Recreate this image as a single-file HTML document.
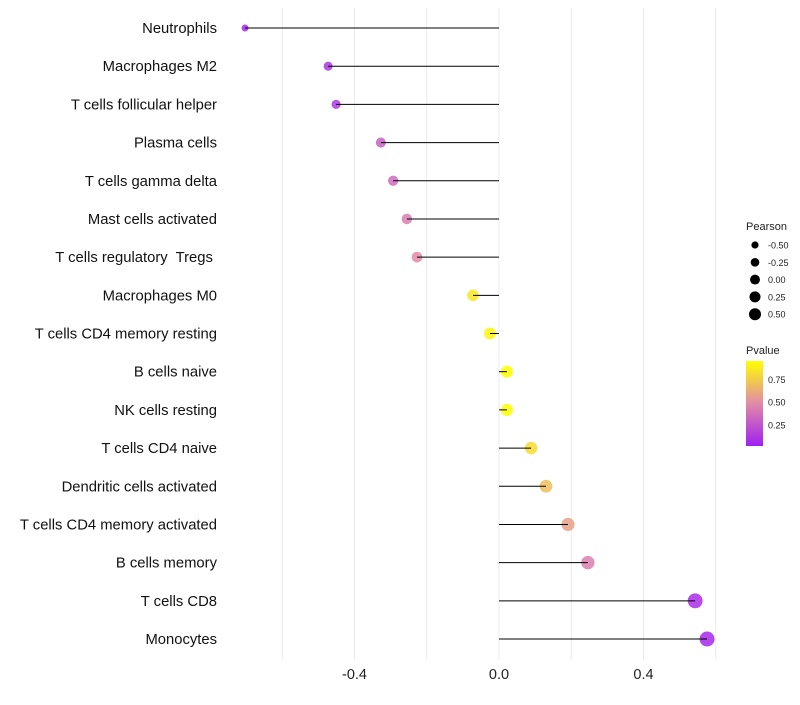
<!DOCTYPE html>
<html><head><meta charset="utf-8"><style>
body{margin:0;background:#fff;font-family:"Liberation Sans",sans-serif}
</style></head><body>
<svg id="chart" width="800" height="700" xmlns="http://www.w3.org/2000/svg">
<defs><linearGradient id="pg" x1="0" y1="1" x2="0" y2="0">
<stop offset="0" stop-color="#A020F0"/><stop offset="0.5" stop-color="#E08AA8"/><stop offset="1" stop-color="#FFFF00"/></linearGradient></defs>
<g id="grid"></g><g id="marks"></g><g id="stems"></g><g id="labels"></g><g id="legend"></g>
</svg>
<script>
const categories=["Neutrophils","Macrophages M2","T cells follicular helper","Plasma cells","T cells gamma delta","Mast cells activated","T cells regulatory  Tregs","Macrophages M0","T cells CD4 memory resting","B cells naive","NK cells resting","T cells CD4 naive","Dendritic cells activated","T cells CD4 memory activated","B cells memory","T cells CD8","Monocytes"];
const pearson=[-0.703,-0.473,-0.451,-0.327,-0.293,-0.255,-0.227,-0.072,-0.025,0.022,0.022,0.089,0.130,0.191,0.246,0.543,0.576];
const pvalue=[0.04,0.1,0.12,0.3,0.36,0.45,0.5,0.9,0.96,1.0,1.0,0.85,0.72,0.6,0.45,0.06,0.04];
const xTicks=[-0.4,0,0.4];
const xTickLabels=["-0.4","0.0","0.4"];
const xMinor=[-0.6,-0.2,0.2,0.6];
const sizeLegend=[-0.5,-0.25,0,0.25,0.5];
const sizeLegendLabels=["-0.50","-0.25","0.00","0.25","0.50"];
const pLegend=[0.25,0.5,0.75];

const NS="http://www.w3.org/2000/svg";
const x=v=>499+v*361.25;
const y=i=>28+i*(639-28)/16;
const r=v=>Math.sqrt(Math.max(1,36.5+34.3*v));
function col(p){
  const stops=[[0,[160,32,240]],[0.5,[224,138,168]],[1,[255,255,0]]];
  p=Math.max(0,Math.min(1,p));
  let a=stops[0],b=stops[1];if(p>0.5){a=stops[1];b=stops[2];}
  const t=(p-a[0])/(b[0]-a[0]);
  return "rgb("+a[1].map((c,k)=>Math.round(c+(b[1][k]-c)*t)).join(",")+")";
}
function mk(t,attrs,parent){const e=document.createElementNS(NS,t);for(const k in attrs)e.setAttribute(k,attrs[k]);document.getElementById(parent).appendChild(e);return e;}
xMinor.concat(xTicks).forEach(v=>{
  const g=mk("line",{x1:x(v),x2:x(v),y1:8,y2:660,stroke:"#ebebeb","stroke-width":1},"grid");
  
  
});
xTicks.forEach((v,i)=>{
  const t=mk("text",{x:x(v),y:679,"text-anchor":"middle","font-size":14.5,fill:"#222"},"labels");
  t.textContent=xTickLabels[i];
  
  
});
categories.forEach((c,i)=>{
  const t=mk("text",{x:217,y:y(i)+5,"text-anchor":"end","font-size":14.8,fill:"#111","xml:space":"preserve",style:"white-space:pre"},"labels");
  t.textContent=c+(c.indexOf("  ")>=0?" ":"");
  
  
  const d=mk("circle",{cx:x(pearson[i]),cy:y(i),r:r(pearson[i]),fill:col(pvalue[i]),"fill-opacity":0.85},"marks");
  
  
  const l=mk("line",{x1:x(0),x2:x(pearson[i]),y1:y(i),y2:y(i),stroke:"#000","stroke-width":1},"stems");
  
  
});
let t=mk("text",{x:746,y:230,"font-size":11,fill:"#222"},"legend");t.textContent="Pearson";


sizeLegend.forEach((v,i)=>{
  const cy=245+i*17.3;
  const c=mk("circle",{cx:755,cy:cy,r:r(v)*0.82,fill:"#000"},"legend");
  
  
  const tt=mk("text",{x:768,y:cy+3.5,"font-size":9,fill:"#222"},"legend");tt.textContent=sizeLegendLabels[i];
  
  
});
t=mk("text",{x:746,y:354,"font-size":11,fill:"#222"},"legend");t.textContent="Pvalue";


const bar=mk("rect",{x:746,y:361,width:17,height:85,fill:"url(#pg)"},"legend");


const py=p=>446-(p-0.02)/0.93*85;
pLegend.forEach(p=>{
  const tt=mk("text",{x:768,y:py(p)+3.5,"font-size":9,fill:"#222"},"legend");tt.textContent=p.toFixed(2);
  
  
});
</script>
</body></html>
